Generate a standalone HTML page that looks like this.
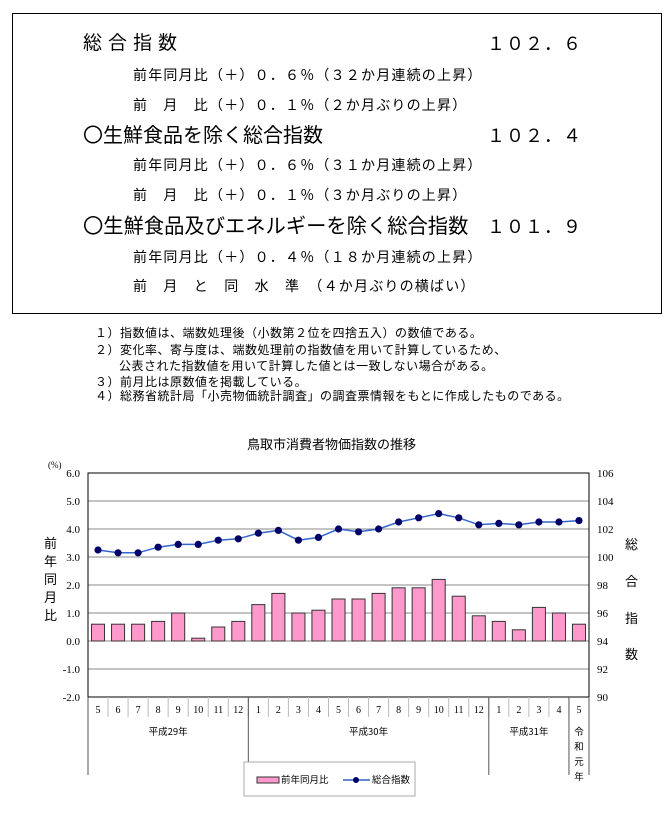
<!DOCTYPE html>
<html><head><meta charset="utf-8"><style>
body{margin:0;width:671px;height:822px;background:#fff;position:relative;font-family:"Liberation Sans","Noto Sans CJK JP",sans-serif;color:#000;overflow:hidden}
.t{position:absolute;white-space:nowrap;line-height:1}
.box{position:absolute;left:12px;top:13px;width:648px;height:299px;border:1px solid #000}
.s{font-size:14px;letter-spacing:1.2px}
.b{font-size:20px}
.num{font-size:18px;letter-spacing:1px}
.n{font-size:12px;letter-spacing:0.5px}
</style></head><body>
<div class="box"></div>
<div class="t" style="left:83px;top:34px;font-size:19px;letter-spacing:6px">総合指数</div>
<div class="t num" style="left:487px;top:35px">１０２．６</div>
<div class="t s" style="left:133px;top:68px">前年同月比（＋）０．６％（３２か月連続の上昇）</div>
<div class="t s" style="left:133px;top:98px">前　月　比（＋）０．１％（２か月ぶりの上昇）</div>
<div class="t b" style="left:83px;top:126px">〇生鮮食品を除く総合指数</div>
<div class="t num" style="left:487px;top:127px">１０２．４</div>
<div class="t s" style="left:133px;top:158px">前年同月比（＋）０．６％（３１か月連続の上昇）</div>
<div class="t s" style="left:133px;top:188px">前　月　比（＋）０．１％（３か月ぶりの上昇）</div>
<div class="t" style="left:83px;top:217px;font-size:20.3px">〇生鮮食品及びエネルギーを除く総合指数</div>
<div class="t num" style="left:487px;top:218px">１０１．９</div>
<div class="t s" style="left:133px;top:250px">前年同月比（＋）０．４％（１８か月連続の上昇）</div>
<div class="t s" style="left:133px;top:279px">前　月　と　同　水　準　（４か月ぶりの横ばい）</div>

<div class="t n" style="left:95px;top:327px">１）指数値は、端数処理後（小数第２位を四捨五入）の数値である。</div>
<div class="t n" style="left:95px;top:344px">２）変化率、寄与度は、端数処理前の指数値を用いて計算しているため、</div>
<div class="t n" style="left:119px;top:360px">公表された指数値を用いて計算した値とは一致しない場合がある。</div>
<div class="t n" style="left:95px;top:376px">３）前月比は原数値を掲載している。</div>
<div class="t n" style="left:95px;top:390px">４）総務省統計局「小売物価統計調査」の調査票情報をもとに作成したものである。</div>

<div class="t" style="left:247px;top:438px;font-size:13px">鳥取市消費者物価指数の推移</div>
<div class="t" style="left:44px;top:535px;font-size:13px;width:14px;line-height:18px;white-space:normal">前年同月比</div>
<div class="t" style="left:625px;top:538px;font-size:13px">総</div>
<div class="t" style="left:625px;top:575px;font-size:13px">合</div>
<div class="t" style="left:625px;top:612px;font-size:13px">指</div>
<div class="t" style="left:625px;top:648px;font-size:13px">数</div>

<svg width="671" height="822" style="position:absolute;left:0;top:0" font-family="Liberation Serif, serif" font-size="11">
<g id="g"></g>
</svg>
<script>
const g=document.getElementById('g');
let h='';
const L=88,R=589,T=473,pu=28,y0=641;
const Y=v=>y0-v*pu;
h+=`<text x="48" y="468" font-size="9">(%)</text>`;
for(let v=-2;v<=6;v++){
 const y=Y(v);
 h+=`<line x1="${L}" x2="${R}" y1="${y}" y2="${y}" stroke="#888" stroke-width="1"/>`;
 h+=`<text x="80" y="${y+4}" text-anchor="end">${v.toFixed(1)}</text>`;
 const r=90+(v+2)*2;h+=`<text x="597" y="${y+4}">${r}</text>`;
}
h+=`<rect x="${L}" y="${T}" width="${R-L}" height="${Y(-2)-T}" fill="none" stroke="#000"/>`;
const bars=[0.6,0.6,0.6,0.7,1.0,0.1,0.5,0.7,1.3,1.7,1.0,1.1,1.5,1.5,1.7,1.9,1.9,2.2,1.6,0.9,0.7,0.4,1.2,1.0,0.6];
const idx=[100.5,100.3,100.3,100.7,100.9,100.9,101.2,101.3,101.7,101.9,101.2,101.4,102.0,101.8,102.0,102.5,102.8,103.1,102.8,102.3,102.4,102.3,102.5,102.5,102.6];
const mon=[5,6,7,8,9,10,11,12,1,2,3,4,5,6,7,8,9,10,11,12,1,2,3,4,5];
const w=(R-L)/25;
bars.forEach((v,i)=>{const x=L+i*w+3.5;h+=`<rect x="${x}" y="${Y(v)}" width="${w-7}" height="${v*pu}" fill="#ff99cc" stroke="#333" stroke-width="1"/>`;});
let pts=idx.map((v,i)=>[L+(i+0.5)*w,Y((v-94)/2)]);
h+=`<polyline points="${pts.map(p=>p.join(',')).join(' ')}" fill="none" stroke="#3366cc" stroke-width="1.5"/>`;
pts.forEach(p=>h+=`<circle cx="${p[0]}" cy="${p[1]}" r="3.6" fill="#000066"/>`);
const yb=Y(-2);
mon.forEach((m,i)=>{const x=L+(i+0.5)*w;h+=`<text x="${x}" y="${yb+16}" text-anchor="middle" font-size="10">${m}</text>`;if(i>0)h+=`<line x1="${L+i*w}" x2="${L+i*w}" y1="${yb}" y2="${yb+20}" stroke="#bbb"/>`;});
[0,8,20,24,25].forEach(i=>{const x=L+i*w;h+=`<line x1="${x}" x2="${x}" y1="${yb}" y2="${yb+78}" stroke="#555"/>`;});
const jp='font-family="Noto Sans CJK JP, sans-serif" font-size="9.5"';
h+=`<text x="${L+4*w}" y="${yb+38}" text-anchor="middle" ${jp}>平成29年</text>`;
h+=`<text x="${L+14*w}" y="${yb+38}" text-anchor="middle" ${jp}>平成30年</text>`;
h+=`<text x="${L+22*w}" y="${yb+38}" text-anchor="middle" ${jp}>平成31年</text>`;
['令','和','元','年'].forEach((c,k)=>h+=`<text x="${L+24.5*w}" y="${yb+38+k*15}" text-anchor="middle" ${jp}>${c}</text>`);
h+=`<rect x="244" y="762" width="171" height="34" fill="#fff" stroke="#aaa"/>`;
h+=`<rect x="257" y="777" width="22" height="6" fill="#ff99cc" stroke="#333"/>`;
h+=`<text x="281" y="783" ${jp}>前年同月比</text>`;
h+=`<line x1="343" x2="370" y1="780" y2="780" stroke="#3366cc" stroke-width="1.5"/><circle cx="356" cy="780" r="3" fill="#000066"/>`;
h+=`<text x="372" y="783" ${jp}>総合指数</text>`;
g.innerHTML=h;
</script>
</body></html>
